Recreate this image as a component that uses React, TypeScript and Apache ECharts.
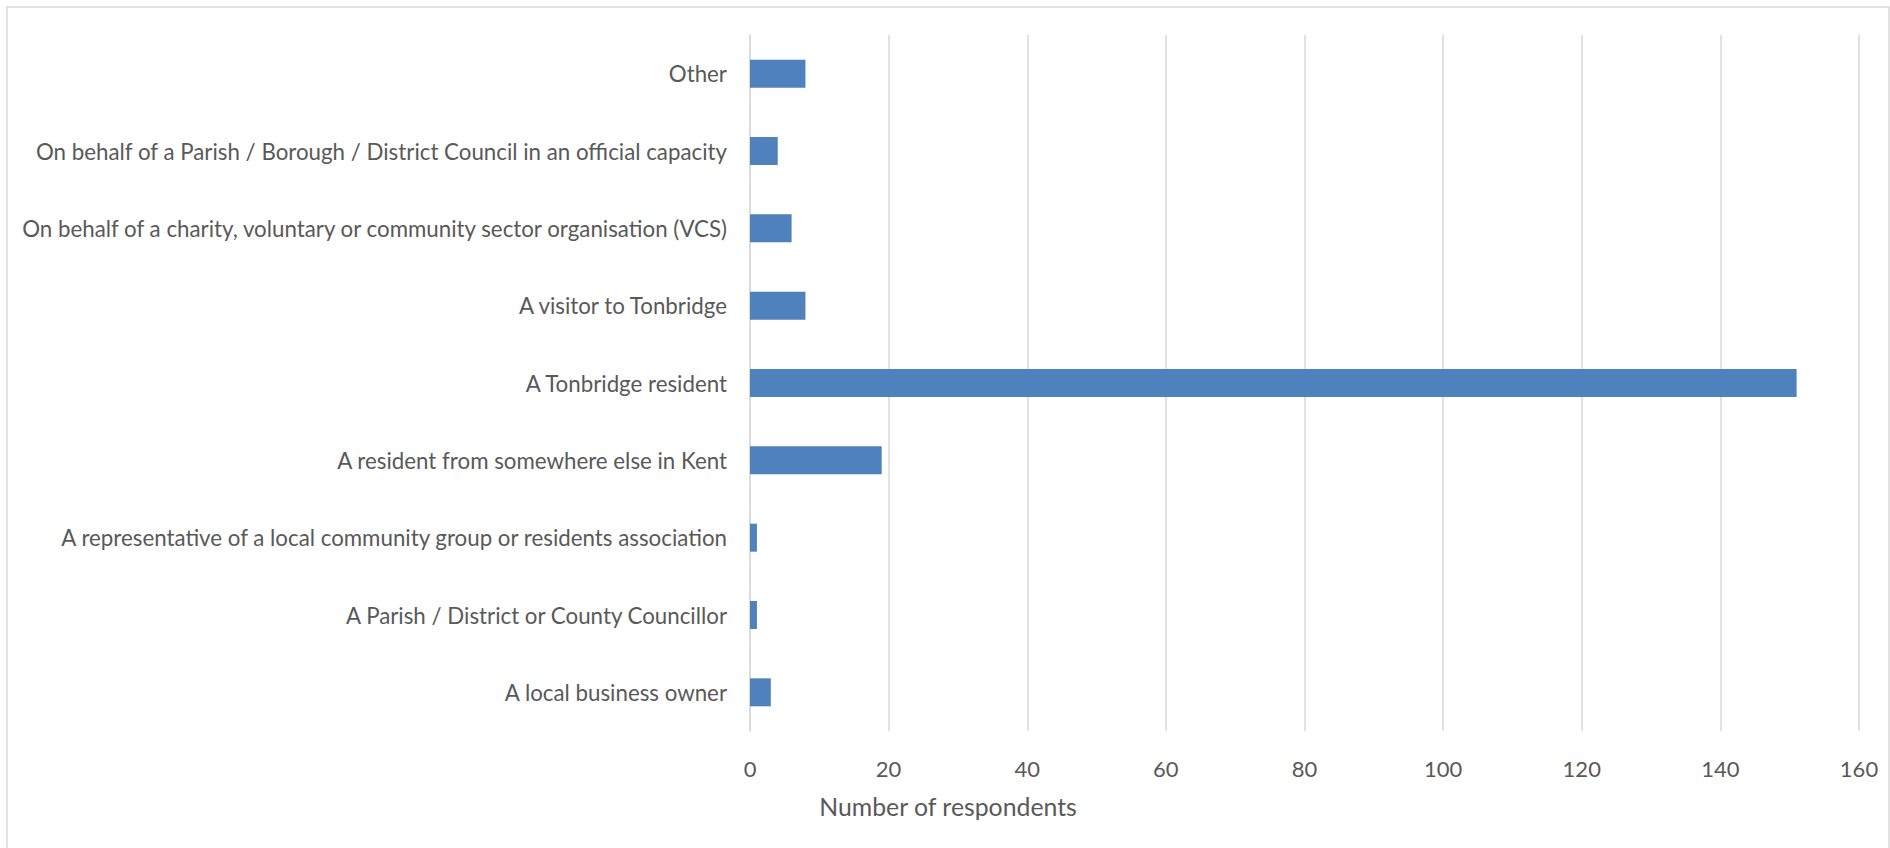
import React, { useEffect, useRef } from "react";
import * as echarts from "echarts";

const categories = [
  "A local business owner",
  "A Parish / District or County Councillor",
  "A representative of a local community group or residents association",
  "A resident from somewhere else in Kent",
  "A Tonbridge resident",
  "A visitor to Tonbridge",
  "On behalf of a charity, voluntary or community sector organisation (VCS)",
  "On behalf of a Parish / Borough / District Council in an official capacity",
  "Other",
];
const respondents = [3, 1, 1, 19, 151, 8, 6, 4, 8];
const axisTitle = "Number of respondents";

const FONT = "Lato, 'Open Sans', sans-serif";
const TEXT = "#595959";
const GRID = "#d9d9d9";

export default function App() {
  const ref = useRef<HTMLDivElement>(null);
  useEffect(() => {
    if (!ref.current) return;
    const chart = echarts.init(ref.current, null, { renderer: "svg" });
    chart.setOption({
      animation: false,
      backgroundColor: "#ffffff",
      textStyle: { fontFamily: FONT },
      grid: { left: 750, right: 31, top: 35, bottom: 117, containLabel: false },
      xAxis: {
        type: "value",
        min: 0,
        max: 160,
        interval: 20,
        axisLine: { show: false },
        axisTick: { show: false },
        axisLabel: { color: TEXT, fontSize: 22, fontFamily: FONT, margin: 26 },
        splitLine: { show: true, lineStyle: { color: GRID, width: 1.5 } },
      },
      yAxis: {
        type: "category",
        data: categories,
        axisLine: { show: true, lineStyle: { color: GRID, width: 1.5 } },
        axisTick: { show: false },
        axisLabel: { color: TEXT, fontSize: 22.3, fontFamily: FONT, margin: 23 },
      },
      series: [
        {
          type: "bar",
          data: respondents,
          barWidth: 28,
          itemStyle: { color: "#4f81bd" },
        },
      ],
      graphic: [
        {
          type: "rect",
          shape: { x: 7, y: 7, width: 1882, height: 870 },
          style: { fill: "none", stroke: GRID, lineWidth: 1.5 },
          silent: true,
        },
        {
          type: "text",
          x: 948,
          y: 806,
          style: {
            text: axisTitle,
            fill: TEXT,
            fontSize: 24.8,
            fontFamily: FONT,
            align: "center",
            verticalAlign: "middle",
          },
        },
      ],
    });
    return () => chart.dispose();
  }, []);
  return (
    <div
      ref={ref}
      style={{ position: "fixed", left: 0, top: 0, width: 1890, height: 848 }}
    />
  );
}
